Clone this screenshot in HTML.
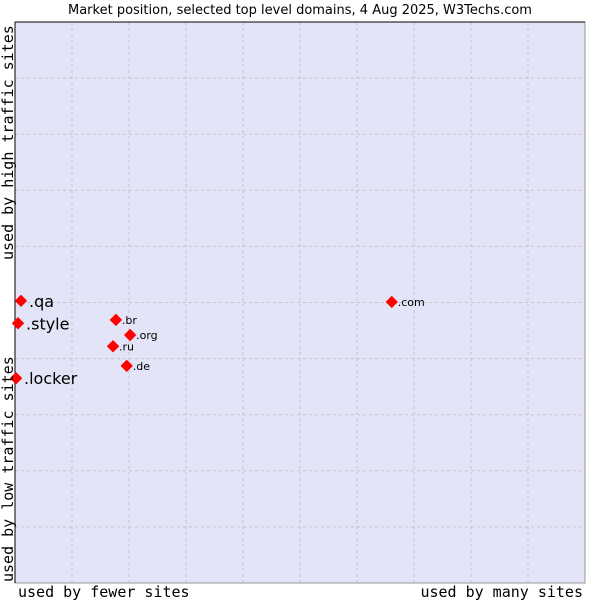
<!DOCTYPE html>
<html><head><meta charset="utf-8"><style>
html,body{margin:0;padding:0;background:#fff;width:600px;height:600px;overflow:hidden}
</style></head><body>
<svg width="600" height="600" xmlns="http://www.w3.org/2000/svg">
<text x="300" y="14" text-anchor="middle" font-family="DejaVu Sans, sans-serif" font-size="13">Market position, selected top level domains, 4 Aug 2025, W3Techs.com</text>
<rect x="15" y="22" width="570" height="561" fill="#e4e4f8" stroke="#999"/>
<g id="grid"></g>
<line x1="15" y1="22" x2="585" y2="22" stroke="#000"/>
<line x1="15" y1="22" x2="15" y2="583" stroke="#000"/>
<g id="points"></g>
<text x="18" y="597" font-family="DejaVu Sans Mono, monospace" font-size="15">used by fewer sites</text>
<text x="583" y="597" text-anchor="end" font-family="DejaVu Sans Mono, monospace" font-size="15">used by many sites</text>
<text transform="translate(13,260) rotate(-90)" font-family="DejaVu Sans Mono, monospace" font-size="15">used by high traffic sites</text>
<text transform="translate(13,582) rotate(-90)" font-family="DejaVu Sans Mono, monospace" font-size="15">used by low traffic sites</text>
</svg>
<script>
const names = [".qa", ".style", ".locker", ".br", ".org", ".ru", ".de", ".com"];
const xValues = [1.05, 0.53, 0.18, 17.7, 20.2, 17.2, 19.6, 66.1];
const yValues = [50.3, 46.3, 36.5, 46.9, 44.2, 42.2, 38.7, 50.1];
const bigLabel = [true, true, true, false, false, false, false, false];
const L=15,R=585,T=22,B=583;
const sx=v=>L+(R-L)*v/100, sy=v=>B-(B-T)*v/100;
const NS="http://www.w3.org/2000/svg";
const g=document.getElementById('grid');
for(let i=1;i<10;i++){
  const x=sx(i*10), y=sy(i*10);
  const a=document.createElementNS(NS,'line');
  a.setAttribute('x1',x);a.setAttribute('x2',x);a.setAttribute('y1',T);a.setAttribute('y2',B);
  a.setAttribute('stroke','#c4c4c4');a.setAttribute('stroke-dasharray','3,3');
  
  
  g.appendChild(a);
  const b=document.createElementNS(NS,'line');
  b.setAttribute('x1',L);b.setAttribute('x2',R);b.setAttribute('y1',y);b.setAttribute('y2',y);
  b.setAttribute('stroke','#c4c4c4');b.setAttribute('stroke-dasharray','3,3');
  
  
  g.appendChild(b);
}
const p=document.getElementById('points');
names.forEach((n,i)=>{
  const x=sx(xValues[i]), y=sy(yValues[i]);
  const d=document.createElementNS(NS,'polygon');
  d.setAttribute('points',`${x},${y-5.5} ${x+5.5},${y} ${x},${y+5.5} ${x-5.5},${y}`);
  d.setAttribute('fill','#f00');
  d.setAttribute('stroke','#f00');
  d.setAttribute('stroke-linejoin','round');
  
  
  p.appendChild(d);
  const t=document.createElementNS(NS,'text');
  t.setAttribute('x',x+(bigLabel[i]?8:6));
  t.setAttribute('y',y+(bigLabel[i]?6:4));
  t.setAttribute('font-family','DejaVu Sans, sans-serif');
  t.setAttribute('font-size',bigLabel[i]?'16':'11');
  t.textContent=n;
  
  
  p.appendChild(t);
});
</script>
</body></html>
